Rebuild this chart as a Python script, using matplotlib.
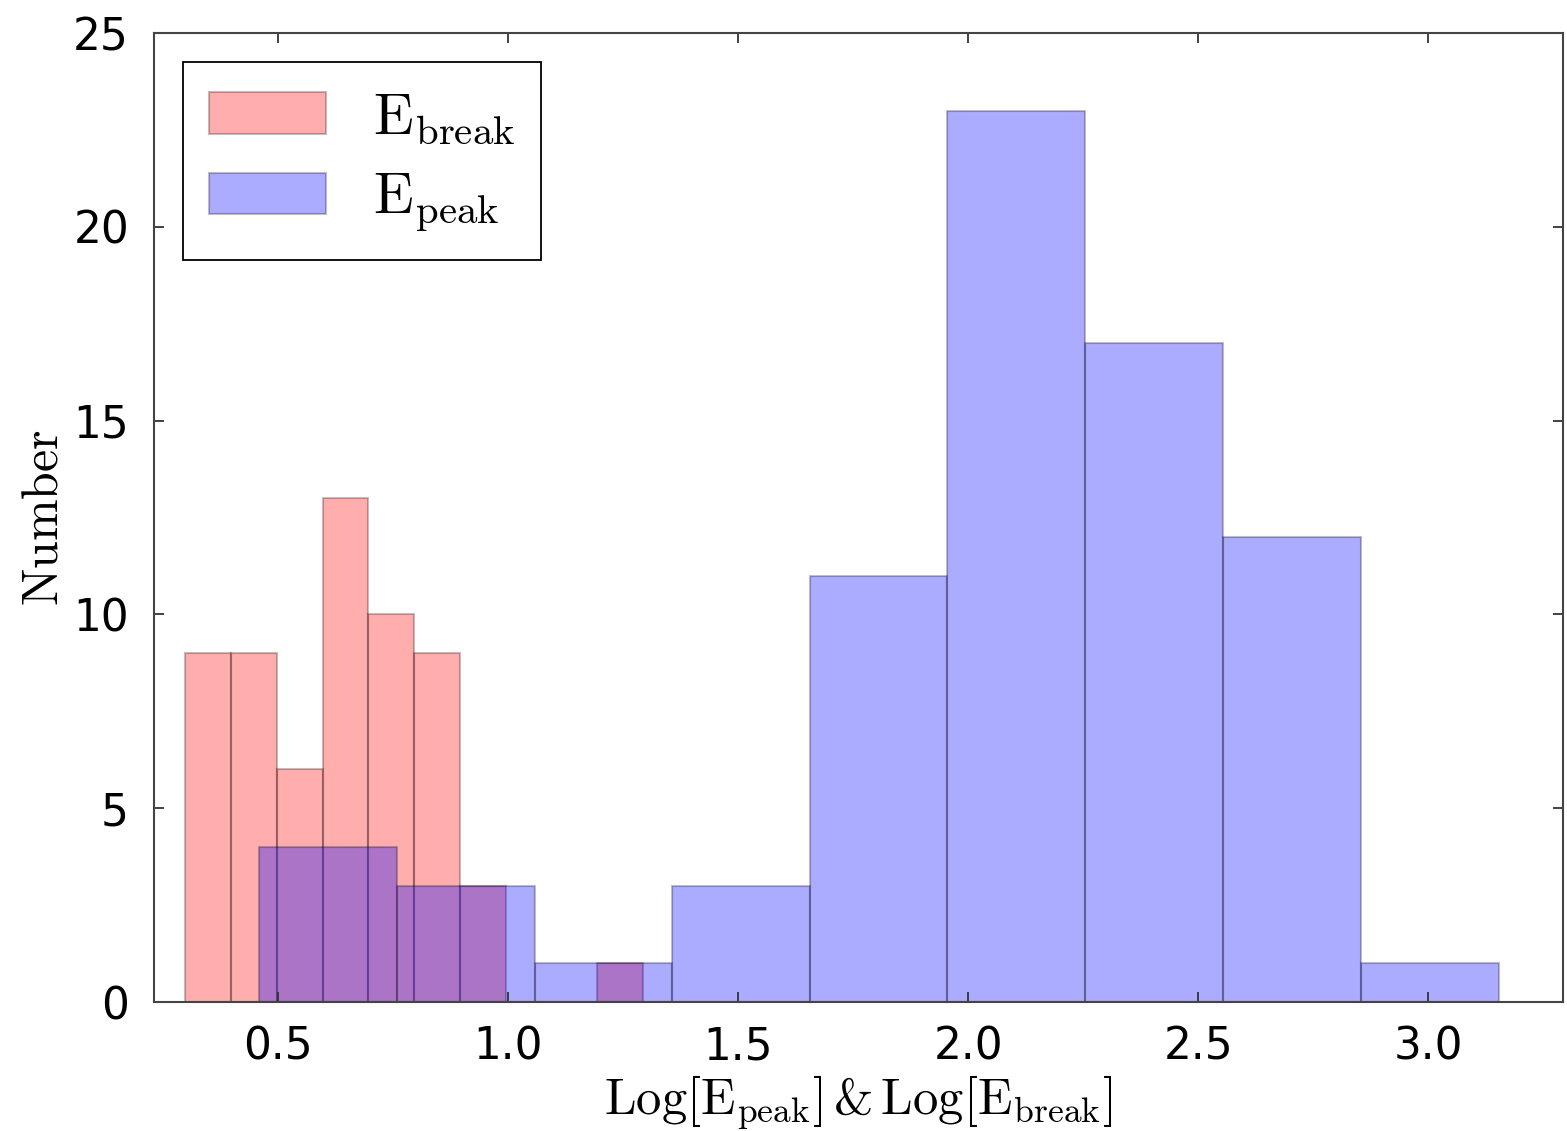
import numpy as np
import matplotlib
matplotlib.use("Agg")
import matplotlib.pyplot as plt

# Histogram bin edges and counts for the two energy samples
break_edges = [0.298, 0.3975, 0.497, 0.5965, 0.696, 0.7955, 0.895, 0.9945, 1.094, 1.1935, 1.293]
break_counts = [9, 9, 6, 13, 10, 9, 3, 0, 0, 1]

peak_edges = [0.459, 0.758, 1.058, 1.357, 1.656, 1.955, 2.255, 2.554, 2.853, 3.153]
peak_counts = [4, 3, 1, 3, 11, 23, 17, 12, 1]

x_ticks = [0.5, 1.0, 1.5, 2.0, 2.5, 3.0]
y_ticks = [0, 5, 10, 15, 20, 25]

plt.rcParams["mathtext.fontset"] = "cm"

fig = plt.figure(figsize=(15.67, 11.31), dpi=100)
ax = fig.add_axes([0.0983, 0.114, 0.8991, 0.8568])

ax.hist(np.array(break_edges[:-1]) + 1e-6, bins=break_edges, weights=break_counts,
        facecolor=(1, 0, 0, 0.32), edgecolor=(0, 0, 0, 0.25), linewidth=1.5,
        label=r"$\rm E_{break}$")
ax.hist(np.array(peak_edges[:-1]) + 1e-6, bins=peak_edges, weights=peak_counts,
        facecolor=(0, 0, 1, 0.33), edgecolor=(0, 0, 0, 0.25), linewidth=1.5,
        label=r"$\rm E_{peak}$")

ax.set_xlim(0.23, 3.293)
ax.set_ylim(0, 25)
ax.set_xticks(x_ticks)
ax.set_xticklabels([f"{v:.1f}" for v in x_ticks])
ax.set_yticks(y_ticks)
ax.tick_params(direction="in", length=7, width=1.3, top=True, right=True,
               labelsize=31.5, color="#333333")
ax.tick_params(axis="x", pad=17)
ax.tick_params(axis="y", pad=18)
for s in ax.spines.values():
    s.set_linewidth(1.5)
    s.set_color("#444444")

ax.set_xlabel(r"$\rm Log[E_{peak}]\,$&$\,\rm Log[E_{break}]$", fontsize=36.5,
              labelpad=3, fontfamily="cmr10")
ax.set_ylabel(r"$\rm Number$", fontsize=36, labelpad=4)

leg = ax.legend(loc="upper left", fontsize=42, fancybox=False, framealpha=1,
                edgecolor="black", handlelength=2.0, handleheight=0.72,
                handletextpad=0.8, labelspacing=0.4, borderpad=0.45,
                borderaxespad=0.5)
leg.get_frame().set_linewidth(1.3)

fig.savefig("out.png", dpi=100)
